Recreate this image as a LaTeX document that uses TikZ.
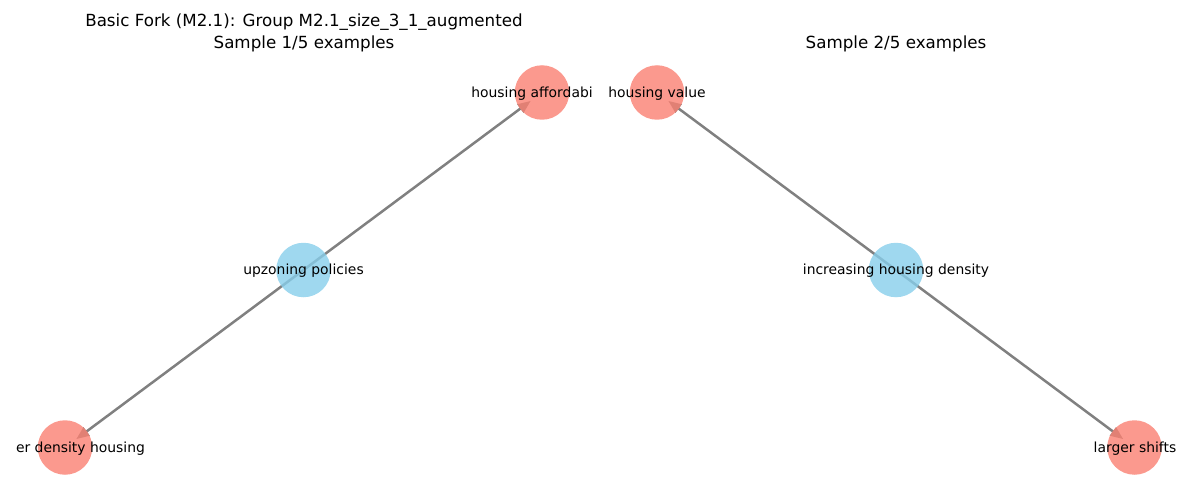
\documentclass[tikz,border=0pt]{standalone}
\usepackage{fontspec}
\setmainfont{DejaVu Sans}
\usetikzlibrary{arrows.meta}
\definecolor{salmonc}{HTML}{FA8072}
\definecolor{skyc}{HTML}{87CEEB}
\definecolor{edgec}{HTML}{808080}
\tikzset{
  redcirc/.style={circle, minimum size=54.5pt, inner sep=0pt, fill=salmonc, fill opacity=0.8, draw=none},
  bluecirc/.style={circle, minimum size=54.5pt, inner sep=0pt, fill=skyc, fill opacity=0.8, draw=none},
  lbl/.style={inner sep=0pt, font=\fontsize{13.9}{16}\selectfont, text=black},
  ttl/.style={inner sep=0pt, font=\fontsize{16.7}{20}\selectfont, text=black},
  edge/.style={draw=edgec, line width=2.5pt, -{Triangle[length=13pt,width=10pt]}, shorten >=14pt}
}
\begin{document}
\begin{tikzpicture}[x=1pt,y=-1pt]
\useasboundingbox (0,0) rectangle (1200,500);
% node centres
\coordinate (A) at (65,447.5);
\coordinate (B) at (542,92.5);
\coordinate (C) at (303.5,270);
\coordinate (D) at (657,92.5);
\coordinate (E) at (896,270);
\coordinate (F) at (1134.5,447.5);
% edges
\draw[edge] (C) -- (A);
\draw[edge] (C) -- (B);
\draw[edge] (E) -- (D);
\draw[edge] (E) -- (F);
% circles
\node[redcirc] (nA) at (A) {};
\node[redcirc] (nB) at (B) {};
\node[bluecirc] (nC) at (C) {};
\node[redcirc] (nD) at (D) {};
\node[bluecirc] (nE) at (E) {};
\node[redcirc] (nF) at (F) {};
% labels
\node[lbl] (lA) at (80.5,448.5) {er density housing};
\node[lbl] (lB) at (532,93.5) {housing affordabi};
\node[lbl] (lC) at (303.5,271) {upzoning policies};
\node[lbl] (lD) at (657,93.5) {housing value};
\node[lbl] (lE) at (896,271) {increasing housing density};
\node[lbl] (lF) at (1135,448.5) {larger shifts};
% titles
\node[ttl] (t1) at (304,22.5) {Basic Fork (M2.1): Group M2.1\_size\_3\_1\_augmented};
\node[ttl] (t2) at (304,43.5) {Sample 1/5 examples};
\node[ttl] (t3) at (896,43.5) {Sample 2/5 examples};
\end{tikzpicture}
\end{document}
